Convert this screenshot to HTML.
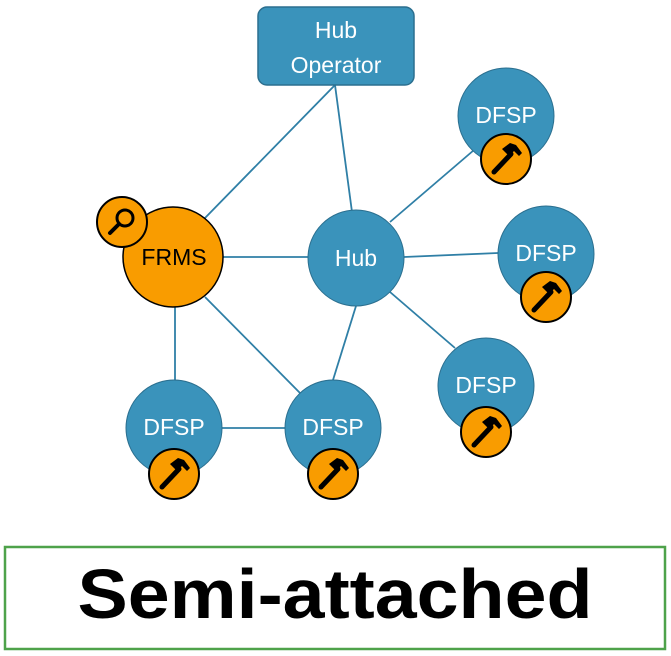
<!DOCTYPE html>
<html><head><meta charset="utf-8"><style>
html,body{margin:0;padding:0;background:#fff;width:671px;height:656px;overflow:hidden}
</style></head><body>
<svg width="671" height="656" viewBox="0 0 671 656" xmlns="http://www.w3.org/2000/svg" font-family="Liberation Sans, sans-serif">
<defs>
<g id="ham">
<circle r="25" fill="#f99c00" stroke="#000" stroke-width="2"/>
<line x1="-12" y1="13" x2="5" y2="-5" stroke="#000" stroke-width="5" stroke-linecap="round"/>
<path d="M-4,-10 L4,-16 L10,-14 L16,-6 L13,-3 L8,-8 L3,-3 Z" fill="#000"/>
</g>
</defs>
<g stroke="#2f7fa6" stroke-width="1.8">
<line x1="335" y1="85" x2="352" y2="212"/>
<line x1="335" y1="85" x2="205" y2="218"/>
<line x1="223" y1="257" x2="308" y2="257"/>
<line x1="390" y1="222" x2="474" y2="150"/>
<line x1="404" y1="257" x2="498" y2="253"/>
<line x1="390" y1="292" x2="455" y2="348"/>
<line x1="175" y1="307" x2="175" y2="380"/>
<line x1="205" y1="297" x2="300" y2="393"/>
<line x1="356" y1="306" x2="333" y2="380"/>
<line x1="222" y1="428" x2="285" y2="428"/>
</g>
<rect x="258" y="7" width="156" height="78" rx="9" fill="#3a93bb" stroke="#2b6f8f" stroke-width="1.5"/>
<text x="336" y="38" font-size="23" fill="#fff" text-anchor="middle">Hub</text>
<text x="336" y="73" font-size="23" fill="#fff" text-anchor="middle">Operator</text>
<g fill="#3a93bb" stroke="#2b6f8f" stroke-width="1">
<circle cx="356" cy="258" r="48"/>
<circle cx="506" cy="116" r="48"/>
<circle cx="546" cy="254" r="48"/>
<circle cx="486" cy="386" r="48"/>
<circle cx="174" cy="428" r="48"/>
<circle cx="333" cy="428" r="48"/>
</g>
<circle cx="173" cy="257" r="50" fill="#f99c00" stroke="#000" stroke-width="1.5"/>
<circle cx="122" cy="222" r="25" fill="#f99c00" stroke="#000" stroke-width="2"/>
<circle cx="125" cy="218" r="8" fill="none" stroke="#000" stroke-width="3"/>
<line x1="119" y1="224" x2="110" y2="233" stroke="#000" stroke-width="4" stroke-linecap="round"/>
<g font-size="23" text-anchor="middle" fill="#fff">
<text x="356" y="266">Hub</text>
<text x="506" y="123">DFSP</text>
<text x="546" y="261">DFSP</text>
<text x="486" y="393">DFSP</text>
<text x="174" y="435">DFSP</text>
<text x="333" y="435">DFSP</text>
<text x="174" y="265" fill="#000">FRMS</text>
</g>
<use href="#ham" x="506" y="159"/>
<use href="#ham" x="546" y="297"/>
<use href="#ham" x="486" y="432"/>
<use href="#ham" x="174" y="474"/>
<use href="#ham" x="333" y="474"/>
<rect x="5" y="547" width="660" height="102" fill="#fff" stroke="#4ea24a" stroke-width="2.5"/>
<text x="335" y="618" font-size="70" font-weight="bold" text-anchor="middle" textLength="515" lengthAdjust="spacingAndGlyphs">Semi-attached</text>
</svg>
</body></html>
